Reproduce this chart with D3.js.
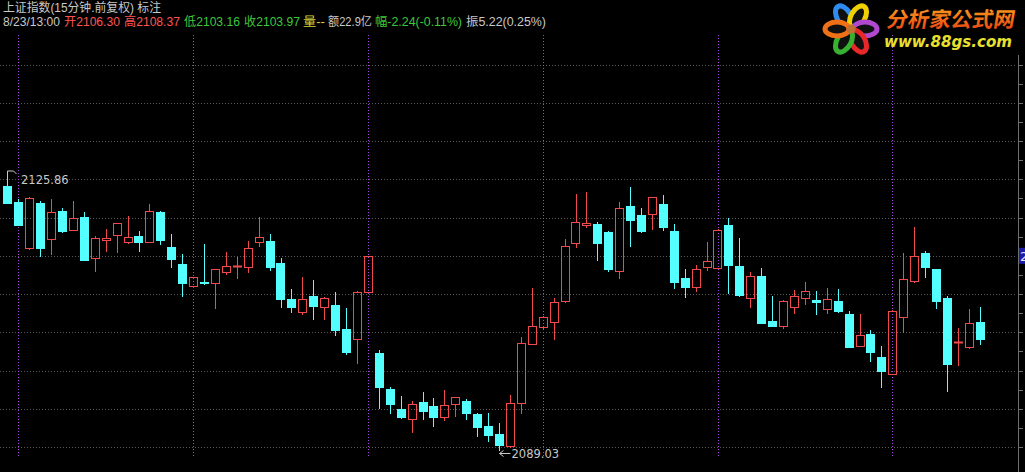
<!DOCTYPE html>
<html><head><meta charset="utf-8">
<script src="https://cdn.jsdelivr.net/npm/d3@7"></script>
<style>html,body{margin:0;padding:0;background:#000;overflow:hidden}svg{display:block}</style>
</head><body>
<script>
// ---- data ----
const dayLabels = ["8/15","8/16","8/17","8/20","8/21","8/22","8/23"];
const barTimes = ["9:30","9:45","10:00","10:15","10:30","10:45","11:00","11:15","13:00","13:15","13:30","13:45","14:00","14:15","14:30","14:45"];
const openV  = [2124.52,2122.38,2116.22,2122.24,2117.42,2121.17,2118.63,2120.37,2114.88,2117.35,2117.96,2117.02,2117.82,2117.02,2121.04,2116.35,2114.07,2111.13,2111.73,2111.53,2113.00,2113.74,2113.67,2117.02,2117.15,2114.21,2109.39,2107.64,2109.79,2108.31,2108.58,2105.37,2104.03,2110.32,2102.15,2097.33,2094.65,2093.32,2095.59,2095.06,2093.58,2095.32,2095.73,2093.99,2092.38,2091.31,2089.70,2095.46,2103.36,2105.64,2106.31,2109.12,2116.89,2119.36,2119.43,2118.36,2113.14,2121.84,2120.64,2120.77,2122.11,2118.49,2112.20,2110.99,2113.67,2113.54,2119.30,2113.81,2109.52,2112.47,2106.44,2105.77,2108.31,2109.52,2109.25,2108.05,2109.12,2107.38,2103.09,2104.70,2101.62,2099.34,2106.98,2111.80,2115.55,2113.40,2109.52,2103.49,2102.96,2106.30];
const highV  = [2125.86,2122.78,2123.05,2122.51,2122.78,2121.57,2122.51,2121.04,2117.82,2118.76,2119.60,2120.50,2118.49,2122.11,2121.17,2118.09,2115.41,2112.40,2116.75,2113.45,2115.68,2115.01,2117.15,2120.37,2118.09,2114.88,2110.73,2112.33,2111.93,2109.60,2110.32,2108.18,2110.46,2115.20,2102.56,2097.60,2096.40,2095.73,2096.93,2096.13,2097.20,2096.30,2095.99,2094.12,2094.12,2092.78,2096.53,2104.30,2110.86,2107.05,2109.52,2117.42,2123.45,2123.72,2119.70,2118.49,2122.38,2124.38,2121.57,2123.10,2123.31,2119.43,2113.40,2113.94,2117.02,2118.70,2120.23,2117.55,2113.00,2113.54,2109.79,2109.20,2110.59,2111.66,2110.46,2110.86,2110.73,2107.78,2107.38,2105.23,2103.09,2107.85,2115.55,2119.03,2115.81,2113.45,2109.79,2105.50,2108.05,2108.37];
const lowV   = [2122.10,2119.16,2115.95,2115.01,2115.28,2118.22,2118.49,2114.55,2113.00,2115.68,2115.55,2116.75,2115.68,2116.95,2116.62,2113.54,2109.65,2111.05,2111.26,2108.05,2112.60,2112.06,2112.87,2116.35,2113.14,2108.18,2107.51,2107.24,2106.57,2106.57,2104.43,2101.89,2100.68,2110.25,2094.65,2093.99,2093.32,2091.44,2093.18,2092.24,2093.05,2093.58,2093.18,2090.90,2090.24,2089.03,2089.43,2093.99,2103.30,2105.37,2103.90,2108.85,2116.22,2118.89,2114.47,2113.00,2112.06,2116.35,2118.22,2118.63,2118.49,2110.73,2109.52,2110.32,2113.14,2113.45,2110.06,2109.65,2108.18,2106.04,2105.64,2105.37,2107.38,2108.58,2107.24,2107.38,2107.51,2102.90,2102.96,2100.95,2097.47,2099.25,2104.83,2111.53,2112.20,2108.05,2096.93,2100.41,2102.69,2103.16];
const closeV = [2122.24,2119.30,2122.91,2116.22,2121.04,2118.49,2120.23,2114.61,2117.55,2117.49,2119.56,2117.69,2117.02,2121.17,2117.29,2114.74,2111.53,2112.33,2111.60,2113.40,2113.81,2113.87,2116.22,2117.69,2113.67,2109.39,2108.31,2109.39,2108.45,2109.52,2105.23,2102.29,2110.32,2115.14,2097.60,2095.32,2093.58,2095.32,2094.39,2093.58,2095.19,2096.26,2094.12,2092.24,2091.17,2089.83,2095.46,2103.49,2105.77,2106.98,2108.98,2116.48,2119.70,2119.50,2116.89,2113.40,2121.57,2119.97,2118.49,2123.05,2119.03,2111.66,2110.99,2113.40,2114.47,2118.63,2113.94,2109.92,2112.47,2106.17,2105.77,2109.12,2109.79,2110.46,2108.98,2109.39,2107.78,2102.96,2104.56,2102.29,2099.74,2107.78,2112.06,2115.14,2113.67,2109.12,2100.68,2103.63,2106.17,2103.97];
const gridValues = [2089.57,2094.69,2099.81,2104.93,2110.05,2115.17,2120.29,2125.41,2130.53,2135.65,2140.77];
const highlightLabel = "2115.17";
const maxMark = {idx:0, value:2125.86, text:"2125.86"};
const minMark = {idx:45, value:2089.03, text:"2089.03"};
const title = "上证指数(15分钟.前复权) 标注";
const infoParts = [
  {t:"8/23/13:00", c:"#c8c8c8", x:3, w:57},
  {t:"开2106.30", c:"#ff5454", x:64, w:56},
  {t:"高2108.37", c:"#ff5454", x:124, w:56},
  {t:"低2103.16", c:"#3cc83c", x:184, w:56},
  {t:"收2103.97", c:"#3cc83c", x:244, w:56},
  {t:"量--", c:"#d2d23c", x:303, w:22},
  {t:"额22.9亿", c:"#c8c8c8", x:328, w:44},
  {t:"幅-2.24(-0.11%)", c:"#3cc83c", x:375, w:87},
  {t:"振5.22(0.25%)", c:"#c8c8c8", x:466, w:80}
];

// categories: last bar of 8/15 then full days, then 9 bars of 8/23
const cats = [];
cats.push(dayLabels[0]+" "+barTimes[15]);
for (let d=1; d<dayLabels.length; d++) for (const t of barTimes) { if (cats.length<openV.length) cats.push(dayLabels[d]+" "+t); }

const W=1025,H=472;
const svg=d3.select("body").append("svg").attr("width",W).attr("height",H);
svg.append("rect").attr("width",W).attr("height",H).attr("fill","#000");

const step=10.925, x0=1.94;
const x=d3.scaleBand().domain(cats).range([x0, x0+step*cats.length]).paddingInner(0.26).paddingOuter(0.13);
const y=d3.scaleLinear().domain([2089.03,2125.86]).range([451,176]);
const cx=i=>x(cats[i])+x.bandwidth()/2;

// horizontal grid
svg.append("g").selectAll("line").data(gridValues).join("line")
  .attr("x1",0).attr("x2",1016)
  .attr("y1",d=>Math.round(y(d))+0.5).attr("y2",d=>Math.round(y(d))+0.5)
  .attr("stroke","#5a5a5a").attr("stroke-dasharray","1,2");

// day separators at first bar of each day
const sepIdx = cats.map((c,i)=>i).filter(i=>i>0 && cats[i].endsWith(" "+barTimes[0]));
svg.append("g").selectAll("line").data(sepIdx).join("line")
  .attr("x1",i=>Math.round(cx(i))+0.5).attr("x2",i=>Math.round(cx(i))+0.5)
  .attr("y1",35).attr("y2",456)
  .attr("stroke","#a844e0").attr("stroke-dasharray","1,2");

// right axis
const axG=svg.append("g");
axG.append("line").attr("x1",1018.5).attr("x2",1018.5).attr("y1",55).attr("y2",H).attr("stroke","#707070");
const tickVals=[];
gridValues.forEach((v,i)=>{tickVals.push(v); if(i<gridValues.length-1) tickVals.push((v+gridValues[i+1])/2);});
axG.selectAll("line.t").data(tickVals).join("line").attr("class","t")
  .attr("x1",1018).attr("x2",1023)
  .attr("y1",d=>Math.round(y(d))+0.5).attr("y2",d=>Math.round(y(d))+0.5)
  .attr("stroke","#707070");
// highlighted axis label (cut by the right edge, as in the original)
const hy=y(+highlightLabel);
axG.append("rect").attr("x",1019).attr("y",hy-8).attr("width",8).attr("height",16).attr("fill","#1c1ca8");
axG.append("text").attr("x",1020).attr("y",hy+5).attr("fill","#e0e0ff")
  .attr("font-family","DejaVu Sans, sans-serif").attr("font-size",13).text(highlightLabel);

// candles
const data=openV.map((o,i)=>({i,o,h:highV[i],l:lowV[i],c:closeV[i]}));
const UP="#f04a4a", DN="#54ffff";
const bw=x.bandwidth();
const cg=svg.append("g");
data.forEach(d=>{
  const xc=Math.round(cx(d.i))+0.5;
  const up=d.c>=d.o;
  const top=Math.round(y(Math.max(d.o,d.c))), bot=Math.round(y(Math.min(d.o,d.c)));
  const yh=Math.round(y(d.h)), yl=Math.round(y(d.l));
  const bx=Math.round(cx(d.i)-bw/2);
  if(up){
    if(bot-top<=1){
      cg.append("line").attr("x1",xc).attr("x2",xc).attr("y1",yh).attr("y2",yl).attr("stroke",UP);
      cg.append("line").attr("x1",bx).attr("x2",bx+Math.round(bw)+1).attr("y1",top+0.5).attr("y2",top+0.5).attr("stroke",UP).attr("stroke-width",2);
    } else {
      cg.append("line").attr("x1",xc).attr("x2",xc).attr("y1",yh).attr("y2",top).attr("stroke",UP);
      cg.append("line").attr("x1",xc).attr("x2",xc).attr("y1",bot).attr("y2",yl).attr("stroke",UP);
      cg.append("rect").attr("x",bx+0.5).attr("y",top+0.5).attr("width",Math.round(bw)).attr("height",bot-top)
        .attr("fill","none").attr("stroke",UP);
    }
  } else {
    cg.append("line").attr("x1",xc).attr("x2",xc).attr("y1",yh).attr("y2",yl).attr("stroke",DN);
    cg.append("rect").attr("x",bx).attr("y",top).attr("width",Math.round(bw)+1).attr("height",Math.max(2,bot-top+1)).attr("fill",DN);
  }
});

// max / min marks
const mx=Math.round(cx(maxMark.idx))+0.5, my=Math.round(y(maxMark.value));
svg.append("path").attr("d",`M${mx},${my} V${my-5} H${mx+6} L${mx+9},${my-2}`).attr("fill","none").attr("stroke","#c8c8c8");
svg.append("text").attr("x",21).attr("y",my+8).attr("fill","#c8c8c8")
  .attr("font-family","DejaVu Sans, sans-serif").attr("font-size",11.5).text(maxMark.text);
const nx=Math.round(cx(minMark.idx))+0.5, ny=Math.round(y(minMark.value))+2.5;
svg.append("path").attr("d",`M${nx+11},${ny} H${nx} M${nx},${ny} l4,-3 M${nx},${ny} l4,3`).attr("fill","none").attr("stroke","#c8c8c8");
svg.append("text").attr("x",nx+12).attr("y",ny+4.5).attr("fill","#c8c8c8")
  .attr("font-family","DejaVu Sans, sans-serif").attr("font-size",11.5).text(minMark.text);

// header
const FF="'Liberation Sans', 'Noto Sans CJK SC', sans-serif";
svg.append("text").attr("x",3).attr("y",12).attr("fill","#c8c8c8").attr("font-family",FF).attr("font-size",12)
  .attr("textLength",158).attr("lengthAdjust","spacingAndGlyphs").text(title);
svg.append("g").selectAll("text").data(infoParts).join("text")
  .attr("x",d=>d.x).attr("y",26).attr("fill",d=>d.c).attr("font-family",FF).attr("font-size",12)
  .attr("textLength",d=>d.w).attr("lengthAdjust","spacingAndGlyphs").text(d=>d.t);

// logo
const defs=svg.append("defs");
const lg=defs.append("linearGradient").attr("id","lg").attr("x1",0).attr("y1",0).attr("x2",0).attr("y2",1);
lg.append("stop").attr("offset","0").attr("stop-color","#ffb020");
lg.append("stop").attr("offset","1").attr("stop-color","#e83a10");
const logo=svg.append("g");
const petals=[["#2e8cf0",-120],["#f0d000",-60],["#b048d0",0],["#e82828",60],["#38b030",120],["#f07018",180]];
const pc=[851,29];
petals.forEach(([col,a])=>{
  const r=a*Math.PI/180;
  const ex=pc[0]+14*Math.cos(r), ey=pc[1]+14*Math.sin(r);
  logo.append("ellipse").attr("cx",ex).attr("cy",ey)
    .attr("rx",7).attr("ry",12).attr("transform",`rotate(${a+90},${ex},${ey})`)
    .attr("fill","#101010").attr("stroke",col).attr("stroke-width",5);
});
logo.append("circle").attr("cx",pc[0]).attr("cy",pc[1]).attr("r",4.5).attr("fill","#c07030");
logo.append("text").attr("x",886).attr("y",27).attr("fill","url(#lg)").attr("font-family","'Noto Sans CJK SC', sans-serif").attr("font-weight","bold")
  .attr("font-size",21).attr("textLength",128).attr("lengthAdjust","spacingAndGlyphs")
  .attr("transform","skewX(-10) translate(4.5,0)").text("分析家公式网");
logo.append("text").attr("x",884).attr("y",47).attr("fill","#e8e030").attr("font-family","DejaVu Sans, sans-serif").attr("font-weight","bold")
  .attr("font-style","italic").attr("font-size",15).attr("textLength",128).attr("lengthAdjust","spacingAndGlyphs").text("www.88gs.com");
</script>
</body></html>
